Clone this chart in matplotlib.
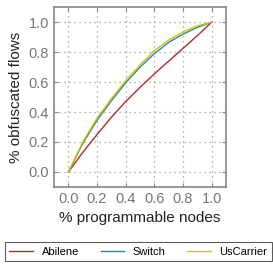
import matplotlib
matplotlib.use("Agg")
import matplotlib.pyplot as plt

plt.rcParams["font.family"] = ["Liberation Sans", "DejaVu Sans"]

# % programmable nodes vs % obfuscated flows
x = [0.0, 0.1, 0.2, 0.3, 0.4, 0.5, 0.6, 0.7, 0.8, 0.9, 1.0]
abilene = [0.0, 0.13, 0.25, 0.365, 0.47, 0.565, 0.655, 0.74, 0.825, 0.91, 1.0]
switch = [0.0, 0.19, 0.345, 0.475, 0.595, 0.70, 0.79, 0.865, 0.92, 0.965, 1.0]
uscarrier = [0.0, 0.2, 0.36, 0.49, 0.61, 0.715, 0.81, 0.88, 0.935, 0.975, 1.0]
ticks = [0.0, 0.2, 0.4, 0.6, 0.8, 1.0]

fig = plt.figure(figsize=(2.73, 2.64), dpi=100)
ax = fig.add_axes([0.198, 0.292, 0.63, 0.681])

ax.plot(x, abilene, color="#b22b27", lw=1.0, label="Abilene")
ax.plot(x, switch, color="#2f7fc1", lw=1.0, label="Switch")
ax.plot(x, uscarrier, color="#d4c500", lw=1.0, label="UsCarrier")

ax.set_xlim(-0.1, 1.1)
ax.set_ylim(-0.1, 1.1)
ax.set_xticks(ticks)
ax.set_yticks(ticks)
ax.grid(True, linestyle=(0, (1, 3)), color="#999999", lw=0.9)
ax.tick_params(direction="in", top=True, right=True, colors="#888888",
               labelsize=10.5, length=3, labelcolor="#777777")
for s in ax.spines.values():
    s.set_color("#888888")
    s.set_linewidth(1.2)

ax.set_xlabel("% programmable nodes", fontsize=11, color="#222222")
ax.set_ylabel("% obfuscated flows", fontsize=11, color="#222222")

leg = fig.legend(loc="lower left", bbox_to_anchor=(0.018, 0.011, 0.978, 0.072),
                 ncol=3, mode="expand", fontsize=8, fancybox=False,
                 handlelength=2.1, handletextpad=0.8, borderaxespad=0,
                 frameon=True)
leg.get_frame().set_edgecolor("#333333")
leg.get_frame().set_linewidth(0.8)

fig.savefig("out.png", dpi=100)
